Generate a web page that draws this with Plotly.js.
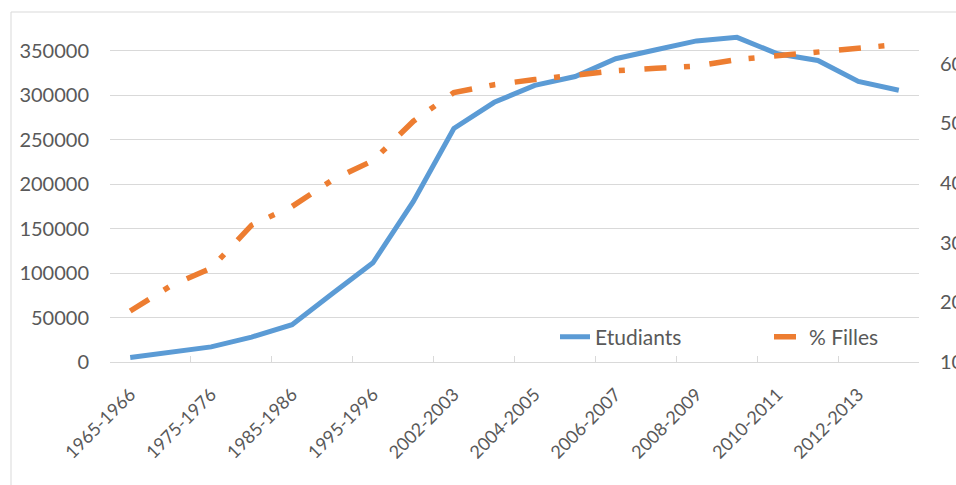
<!DOCTYPE html>
<html>
<head>
<meta charset="utf-8">
<script src="https://cdn.plot.ly/plotly-3.0.1.min.js"></script>
<style>
  html, body { margin: 0; padding: 0; background: #ffffff; overflow: hidden; }
  #chart { width: 956px; height: 485px; }
</style>
</head>
<body>
<div id="chart"></div>
<script>
const categories = [
  "1965-1966", "1970-1971", "1975-1976", "1980-1981", "1985-1986",
  "1990-1991", "1995-1996", "2000-2001", "2002-2003", "2003-2004",
  "2004-2005", "2005-2006", "2006-2007", "2007-2008", "2008-2009",
  "2009-2010", "2010-2011", "2011-2012", "2012-2013", "2013-2014"
];
const etudiants = [
  5000, 11000, 17000, 28000, 42000, 77000, 111500, 180500, 262500, 292000,
  311000, 321000, 341000, 351000, 361000, 365000, 346500, 339000, 315500, 305500
];
const pctFilles = [
  18.55, 22.76, 25.71, 32.92, 36.06, 40.5, 43.74, 50.34, 55.14, 56.46,
  57.32, 58.12, 58.79, 59.21, 59.58, 60.67, 61.27, 61.79, 62.46, 63.2
];
const seriesNames = ["Etudiants", "% Filles"];
const labeledTicks = categories.filter((c, i) => i % 2 === 0);
const boundaryTicks = labeledTicks.map((c) => categories.indexOf(c) - 0.5).concat([categories.length - 0.5]);

const FONT = "Lato, 'Open Sans', sans-serif";
const TEXT = "#595959";
const GRID = "#D9D9D9";

const W = 956, H = 485;
const M = { l: 110, r: 37, t: 12, b: 123, autoexpand: false };
const pw = W - M.l - M.r, ph = H - M.t - M.b;

const traces = [
  {
    x: categories, y: etudiants, name: seriesNames[0],
    type: "scatter", mode: "lines", xaxis: "x", yaxis: "y",
    line: { color: "#5B9BD5", width: 5 },
    hoverinfo: "skip"
  },
  {
    x: categories, y: pctFilles, name: seriesNames[1],
    type: "scatter", mode: "lines", xaxis: "x", yaxis: "y2",
    line: { color: "#ED7D31", width: 5.5, dash: "22px,17.6px,6px,19.6px" },
    hoverinfo: "skip"
  },
  {
    x: categories.map((c, i) => i), y: categories.map(() => null),
    type: "scatter", mode: "lines", xaxis: "x2", yaxis: "y",
    showlegend: false, hoverinfo: "skip"
  }
];

const layout = {
  width: W, height: H,
  margin: M,
  paper_bgcolor: "#ffffff", plot_bgcolor: "#ffffff",
  font: { family: FONT, color: TEXT, size: 20 },
  showlegend: true,
  legend: {
    orientation: "h",
    x: (555 - M.l) / pw, xanchor: "left",
    y: (H - M.b - 337) / ph, yanchor: "middle",
    font: { family: FONT, size: 21, color: TEXT },
    bgcolor: "rgba(0,0,0,0)",
    entrywidth: 169, entrywidthmode: "pixels",
    itemclick: false, itemdoubleclick: false
  },
  xaxis: {
    type: "category", automargin: false,
    range: [-0.5, categories.length - 0.5],
    tickmode: "array", tickvals: labeledTicks, ticktext: labeledTicks,
    ticks: "", tickangle: -45,
    tickfont: { family: FONT, size: 18, color: TEXT },
    ticklabelstandoff: 14,
    showgrid: false, zeroline: false,
    showline: true, linecolor: GRID, linewidth: 1,
    fixedrange: true
  },
  xaxis2: {
    type: "linear", overlaying: "x", anchor: "y", side: "bottom", automargin: false,
    range: [-0.5, categories.length - 0.5],
    tickmode: "array", tickvals: boundaryTicks,
    ticks: "inside", ticklen: 6, tickwidth: 1, tickcolor: GRID,
    showticklabels: false, showgrid: false, zeroline: false, showline: false,
    fixedrange: true
  },
  yaxis: {
    range: [0, 393500], automargin: false,
    tickmode: "linear", tick0: 0, dtick: 50000, tickformat: "d",
    showgrid: true, gridcolor: GRID, gridwidth: 1,
    zeroline: false, showline: false, ticks: "",
    tickfont: { family: FONT, size: 20, color: TEXT },
    ticklabelstandoff: 20,
    fixedrange: true
  },
  yaxis2: {
    overlaying: "y", side: "right", anchor: "x", automargin: false,
    range: [10, 68.64],
    tickmode: "linear", tick0: 10, dtick: 10,
    showgrid: false, zeroline: false, showline: false, ticks: "",
    tickfont: { family: FONT, size: 20, color: TEXT },
    ticklabelstandoff: 20,
    fixedrange: true
  },
  shapes: [
    {
      type: "rect", xref: "paper", yref: "paper", layer: "below",
      x0: (11 - M.l) / pw, x1: (W + 20 - M.l) / pw,
      y0: -(M.b + 20) / ph, y1: 1,
      line: { color: GRID, width: 1 }, fillcolor: "rgba(0,0,0,0)"
    }
  ],
  hovermode: false
};

Plotly.newPlot("chart", traces, layout, { displayModeBar: false, staticPlot: true });
</script>
</body>
</html>
